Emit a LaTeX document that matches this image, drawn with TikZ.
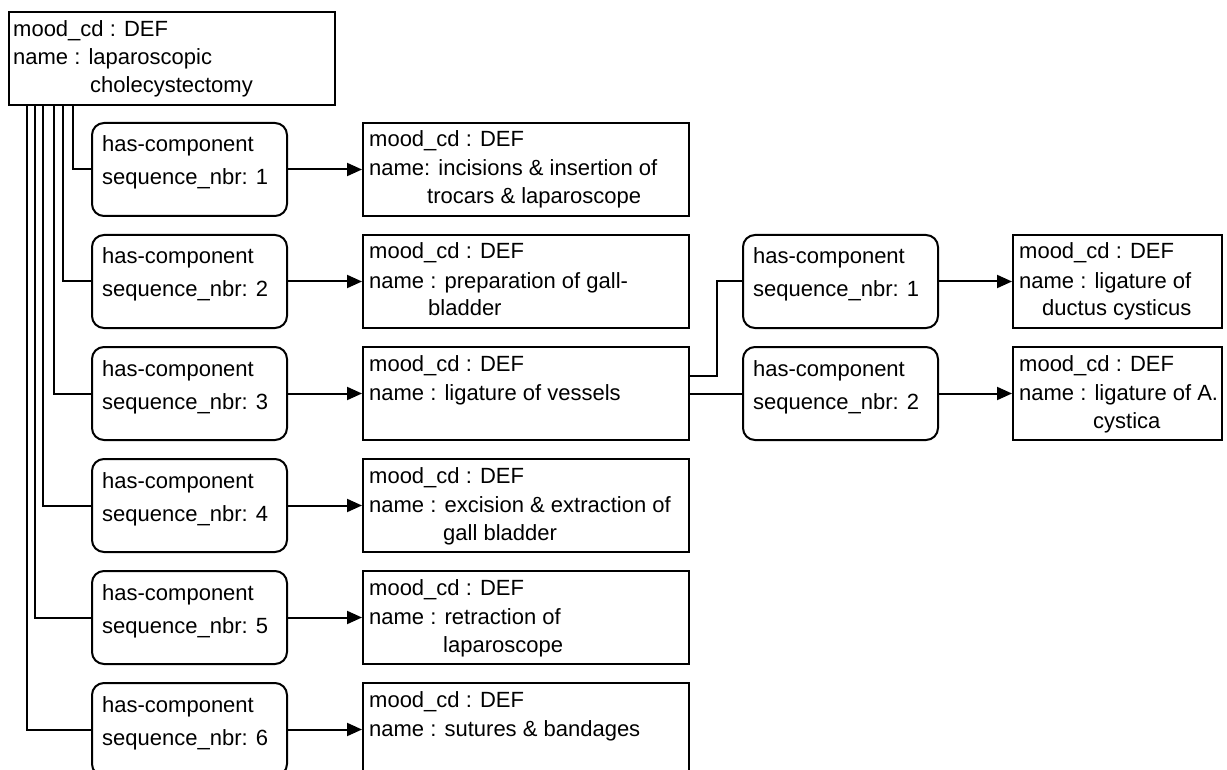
\documentclass[tikz,border=0pt]{standalone}
\usepackage{fontspec}
\setmainfont{Liberation Sans}
\usetikzlibrary{arrows.meta,calc}

\tikzset{
  lw/.style={line width=2pt},
  rectbox/.style={lw, draw, rectangle, inner sep=0pt, anchor=north west,
    minimum height=93pt},
  linkbox/.style={lw, draw, rectangle, rounded corners=12pt, inner sep=0pt,
    anchor=north west, minimum width=195pt, minimum height=93pt},
  txt/.style={inner sep=0pt, anchor=base west,
    font=\fontsize{22}{26}\selectfont},
  conn/.style={lw},
  arr/.style={lw, -{Triangle[length=15pt,width=13pt]}},
}

% has-component relation box: name, x, y(top), sequence number
\newcommand\hascomp[4]{%
  \node[linkbox] (#1) at (#2,#3) {};
  \node[txt] (#1-a) at ($(#1.north west)+(11,30)$) {has-component};
  \node[txt] (#1-b) at ($(#1.north west)+(11,63)$) {sequence\_nbr: #4};
}
% activity box: name, x, y(top), width, name line, continuation indent, continuation
\newcommand\activity[7]{%
  \node[rectbox, minimum width=#4pt] (#1) at (#2,#3) {};
  \node[txt] (#1-a) at ($(#1.north west)+(7,25)$) {mood\_cd : DEF};
  \node[txt] (#1-b) at ($(#1.north west)+(7,54)$) {#5};
  \node[txt] (#1-c) at ($(#1.north west)+(#6,82)$) {#7};
}

\begin{document}
\begin{tikzpicture}[x=1pt, y=-1pt]
\useasboundingbox (0,0) rectangle (1227,770);
\clip (0,0) rectangle (1227,770);

% root procedure
\node[rectbox, minimum width=326pt] (root) at (8,11) {};
\node[txt] (root-a) at ($(root.north west)+(5,26)$) {mood\_cd : DEF};
\node[txt] (root-b) at ($(root.north west)+(5,54)$) {name : laparoscopic};
\node[txt] (root-c) at ($(root.north west)+(82,82)$) {cholecystectomy};

% relation boxes
\hascomp{r1}{91}{122}{1}
\hascomp{r2}{91}{234}{2}
\hascomp{r3}{91}{346}{3}
\hascomp{r4}{91}{458}{4}
\hascomp{r5}{91}{570}{5}
\hascomp{r6}{91}{682}{6}

% component activities
\activity{e1}{362}{122}{326}{name: incisions \& insertion of}{65}{trocars \& laparoscope}
\activity{e2}{362}{234}{326}{name : preparation of gall-}{66}{bladder}
\activity{e3}{362}{346}{326}{name : ligature of vessels}{66}{}
\activity{e4}{362}{458}{326}{name : excision \& extraction of}{81}{gall bladder}
\activity{e5}{362}{570}{326}{name : retraction of}{81}{laparoscope}
\activity{e6}{362}{682}{326}{name : sutures \& bandages}{66}{}

% sub-components of ligature of vessels
\hascomp{s1}{742}{234}{1}
\hascomp{s2}{742}{346}{2}
\activity{f1}{1012}{234}{209}{name : ligature of}{30}{ductus cysticus}
\activity{f2}{1012}{346}{209}{name : ligature of A.}{81}{cystica}

% root to relation boxes
\draw[conn] ([xshift=65pt]root.south west) |- (r1.west);
\draw[conn] ([xshift=55pt]root.south west) |- (r2.west);
\draw[conn] ([xshift=46pt]root.south west) |- (r3.west);
\draw[conn] ([xshift=35pt]root.south west) |- (r4.west);
\draw[conn] ([xshift=27pt]root.south west) |- (r5.west);
\draw[conn] ([xshift=19pt]root.south west) |- (r6.west);

% relation boxes to activities
\foreach \i in {1,...,6} {
  \draw[arr] (r\i.east) -- (e\i.west);
}

% ligature of vessels to its parts
\draw[conn] ([yshift=17.5pt]e3.east) -- ++(27,0) |- (s1.west);
\draw[conn] (e3.east) -- (s2.west);
\draw[arr] (s1.east) -- (f1.west);
\draw[arr] (s2.east) -- (f2.west);
\end{tikzpicture}
\end{document}
